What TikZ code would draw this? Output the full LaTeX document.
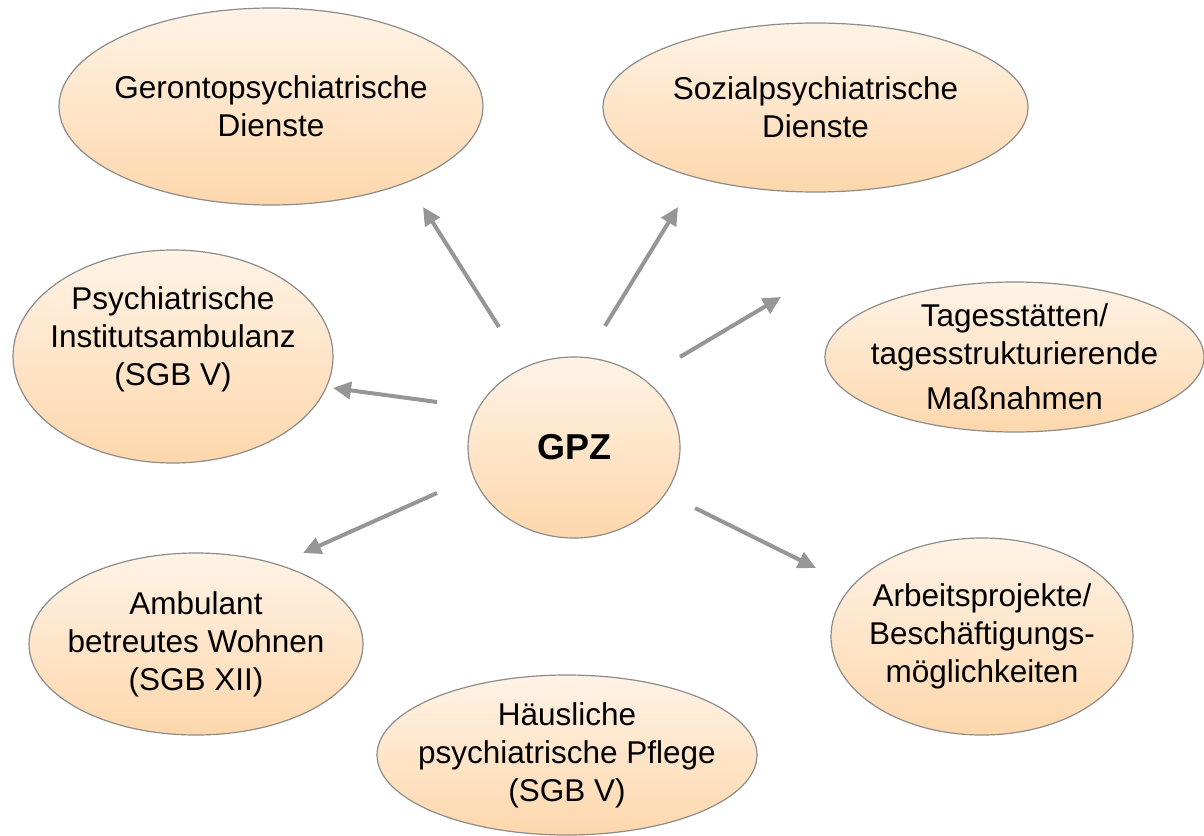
\documentclass[tikz,border=0pt]{standalone}
\usepackage{fontspec}
\setmainfont{Liberation Sans}
\usetikzlibrary{shapes.geometric,arrows.meta}
\definecolor{bubtop}{RGB}{255,243,230}
\definecolor{bubbot}{RGB}{253,215,172}
\definecolor{bubline}{RGB}{140,140,140}
\definecolor{arrgray}{RGB}{150,150,150}
\tikzset{
  bubble/.style={ellipse, draw=bubline, line width=1.2pt, top color=bubtop, bottom color=bubbot,
    inner sep=0pt},
  bubtext/.style={inner sep=0pt, align=center, text=black, font=\fontsize{31.5}{38}\selectfont},
  conn/.style={draw=arrgray, line width=4pt, -{Triangle[length=18pt,width=17pt]}}
}
\begin{document}
\begin{tikzpicture}[x=1pt,y=-1pt]
\useasboundingbox (0,0) rectangle (1204,835);
% ellipses
\node[bubble, minimum width=424pt, minimum height=197pt] (ger) at (271,106.5) {};
\node[bubtext] (gert) at (ger.center) {Gerontopsychiatrische\\Dienste};
\node[bubble, minimum width=425pt, minimum height=169pt] (soz) at (815.5,107.5) {};
\node[bubtext] (sozt) at (soz.center) {Sozialpsychiatrische\\Dienste};
\node[bubble, minimum width=320pt, minimum height=213pt] (psy) at (173,356.5) {};
\node[bubtext] (psyt) at ([yshift=17pt]psy.center) {Psychiatrische\\Institutsambulanz\\(SGB V)};
\node[bubble, minimum width=379pt, minimum height=150pt] (tag) at (1014.5,357) {};
\node[bubtext] (tagt) at (tag.center) {Tagesstätten/\\tagesstrukturierende\\[7pt]Maßnahmen};
\node[bubble, minimum width=212pt, minimum height=181pt] (gpz) at (574,447.5) {};
\node[bubtext, font=\fontsize{36}{42}\selectfont\bfseries] (gpzt) at (gpz.center) {GPZ};
\node[bubble, minimum width=334pt, minimum height=182pt] (amb) at (196,644) {};
\node[bubtext] (ambt) at (amb.center) {Ambulant\\betreutes Wohnen\\(SGB XII)};
\node[bubble, minimum width=302pt, minimum height=197pt] (arb) at (982,636.5) {};
\node[bubtext] (arbt) at (arb.center) {Arbeitsprojekte/\\Beschäftigungs-\\möglichkeiten};
\node[bubble, minimum width=380pt, minimum height=160pt] (hae) at (567,755) {};
\node[bubtext] (haet) at (hae.center) {Häusliche\\psychiatrische Pflege\\(SGB V)};
% arrow end points
\coordinate (a1s) at (499,327); \coordinate (a1e) at (423,207);
\coordinate (a2s) at (605,326); \coordinate (a2e) at (678,207);
\coordinate (a3s) at (680,357); \coordinate (a3e) at (781,297);
\coordinate (a4s) at (437,402); \coordinate (a4e) at (333,388);
\coordinate (a5s) at (437,493); \coordinate (a5e) at (303,553);
\coordinate (a6s) at (695,508); \coordinate (a6e) at (816,568);
\draw[conn] (a1s) -- (a1e);
\draw[conn] (a2s) -- (a2e);
\draw[conn] (a3s) -- (a3e);
\draw[conn] (a4s) -- (a4e);
\draw[conn] (a5s) -- (a5e);
\draw[conn] (a6s) -- (a6e);
\end{tikzpicture}
\end{document}
